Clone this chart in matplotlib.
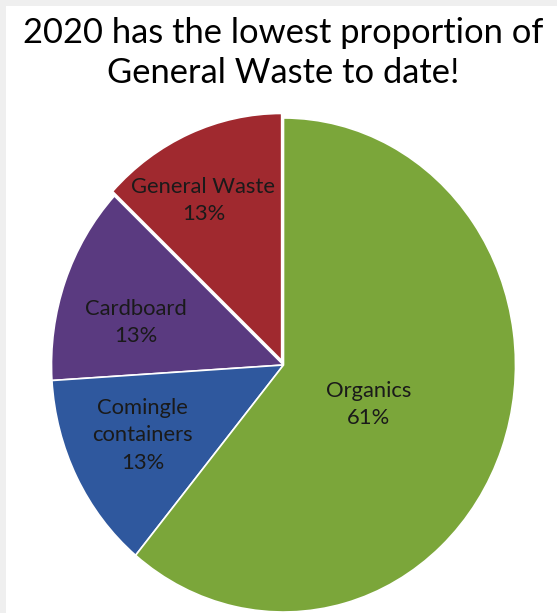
import matplotlib.pyplot as plt
import numpy as np
from matplotlib.patches import Rectangle

# data
CATEGORIES = ["General Waste", "Cardboard", "Comingle\ncontainers", "Organics"]
PERCENTS = [13, 13, 13, 61]
COLORS = ["#a0292f", "#5a3a80", "#2f589e", "#7ba63a"]
EXPLODE = [0.02, 0, 0, 0]
TITLE = "2020 has the lowest proportion of\nGeneral Waste to date!"

W, H = 557, 613
fig = plt.figure(figsize=(W / 100, H / 100), dpi=100, facecolor="#efefef")
fig.patches.append(Rectangle((6 / W, 0), 1, (H - 6) / H, transform=fig.transFigure,
                             facecolor="white", edgecolor="none", zorder=-1))

# pie occupies an ellipse centred at (283.5, 365) px, radii 232 x 247
cx, cy, rx, ry = 283.5, 365, 232, 247
ax = fig.add_axes([(cx - rx) / W, (H - cy - ry) / H, 2 * rx / W, 2 * ry / H])
ax.set_zorder(2)
wedges, _ = ax.pie(PERCENTS, colors=COLORS, startangle=90, counterclock=True,
                   explode=EXPLODE, radius=1,
                   wedgeprops=dict(edgecolor="white", linewidth=1.2))
ax.set_aspect("auto")
ax.set_xlim(-1, 1)
ax.set_ylim(-1, 1)
ax.axis("off")

# labels placed near wedge mid-angle
label_dist = [0.75, 0.66, 0.67, 0.40]
angle_shift = [4, 4.6, -1.8, -3.9]
for w, name, pct, d, da in zip(wedges, CATEGORIES, PERCENTS, label_dist, angle_shift):
    mid = np.deg2rad((w.theta1 + w.theta2) / 2 + da)
    ax.text(d * np.cos(mid), d * np.sin(mid), f"{name}\n{pct}%",
            ha="center", va="center", fontsize=15.8, color="#1a1a1a",
            family="Lato", linespacing=1.45)

fig.text(cx / W, 1 - 53 / H, TITLE, ha="center", va="center", fontsize=24.8,
         family="Lato", color="black", linespacing=1.32)

fig.savefig("out.png", dpi=100, facecolor=fig.get_facecolor())
